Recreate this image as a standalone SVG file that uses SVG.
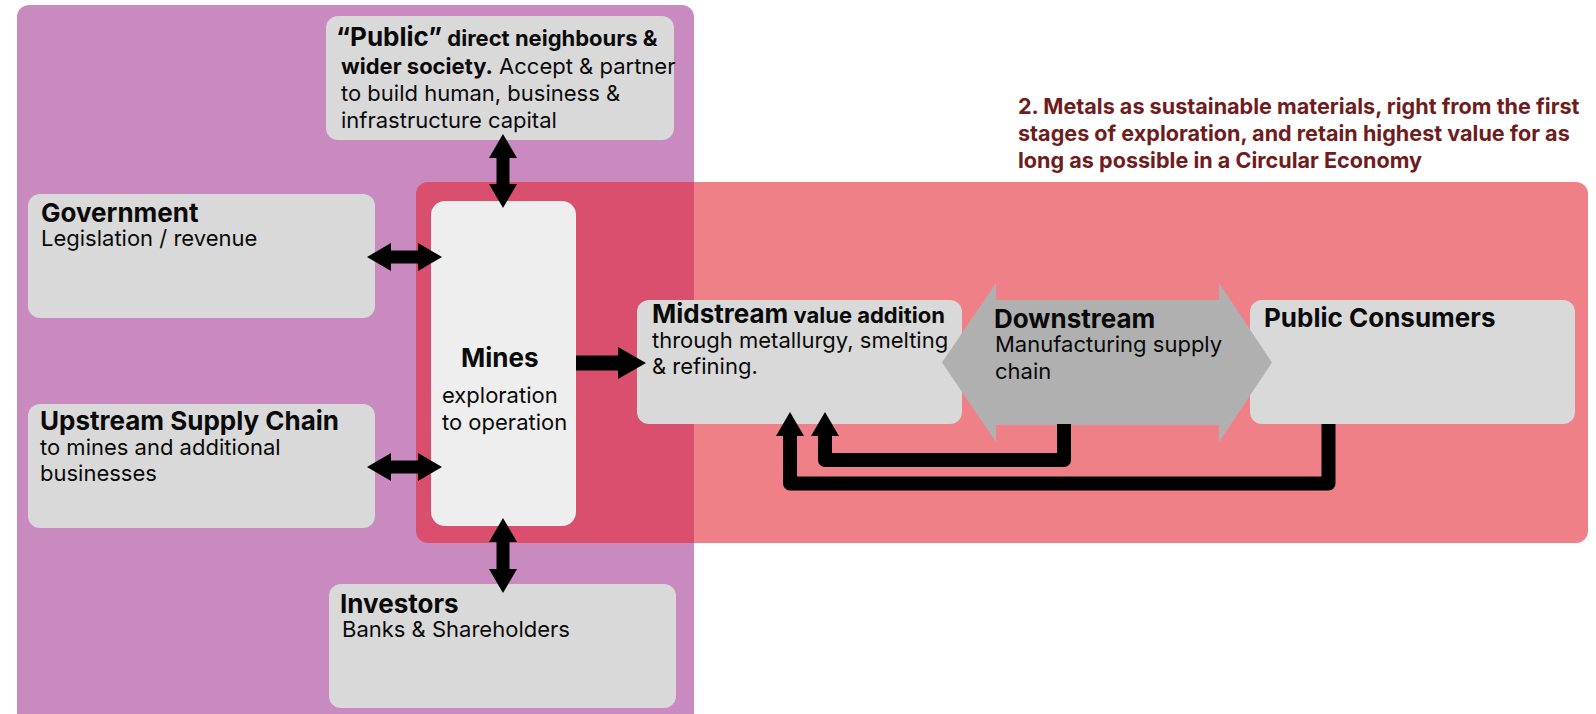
<svg xmlns="http://www.w3.org/2000/svg" width="1596" height="714" viewBox="0 0 1596 714">
  <style>
    text { font-family: Inter, "Liberation Sans", sans-serif; fill: #0A0A0A; }
    .t { font-weight: 700; font-size: 26px; }
    .b { font-size: 22px; }
    .sb { font-weight: 700; font-size: 22px; }
    .box { fill: #D9D9D9; }
    .conn { stroke: #000; fill: none; }
    .title { font-weight: 700; font-size: 21.6px; fill: #701C1C; }
  </style>
  <defs>
    <marker id="head" viewBox="0 0 24 28" refX="0" refY="14" markerWidth="24" markerHeight="28" markerUnits="userSpaceOnUse" orient="auto-start-reverse">
      <path d="M0,0 L24,14 L0,28 Z" fill="#000"/>
    </marker>
    <marker id="headL" viewBox="0 0 28 32" refX="0" refY="16" markerWidth="28" markerHeight="32" markerUnits="userSpaceOnUse" orient="auto">
      <path d="M0,0 L28,16 L0,32 Z" fill="#000"/>
    </marker>
  </defs>

  <!-- background zones -->
  <rect id="zone-stakeholders" x="17" y="5" width="677" height="720" rx="12" fill="#C98BBF"/>
  <rect id="zone-circular" x="416" y="182" width="1172" height="361" rx="12" fill="#E52432" fill-opacity="0.58"/>

  <!-- caption -->
  <g id="caption">
    <text class="title" x="1018" y="114">2. Metals as sustainable materials, right from the first</text>
    <text class="title" x="1018" y="141">stages of exploration, and retain highest value for as</text>
    <text class="title" x="1018" y="168">long as possible in a Circular Economy</text>
  </g>

  <g id="public">
    <rect class="box" x="326" y="16" width="348" height="124" rx="12"/>
    <text x="336" y="46"><tspan class="t">“Public”</tspan><tspan class="sb"> direct neighbours &amp;</tspan></text>
    <text class="b" x="341" y="74"><tspan font-weight="700">wider society.</tspan> Accept &amp; partner</text>
    <text class="b" x="341" y="101">to build human, business &amp;</text>
    <text class="b" x="341" y="128">infrastructure capital</text>
  </g>

  <g id="government">
    <rect class="box" x="28" y="194" width="347" height="124" rx="12"/>
    <text class="t" x="41" y="222">Government</text>
    <text class="b" x="41" y="246">Legislation / revenue</text>
  </g>

  <g id="upstream">
    <rect class="box" x="28" y="404" width="347" height="124" rx="12"/>
    <text class="t" x="40" y="430">Upstream Supply Chain</text>
    <text class="b" x="40" y="455">to mines and additional</text>
    <text class="b" x="40" y="481">businesses</text>
  </g>

  <g id="mines">
    <rect x="431" y="201" width="145" height="325" rx="14" fill="#EEEEEE"/>
    <text class="t" x="461" y="367">Mines</text>
    <text class="b" x="442" y="403">exploration</text>
    <text class="b" x="442" y="430">to operation</text>
  </g>

  <g id="investors">
    <rect class="box" x="329" y="584" width="347" height="124" rx="12"/>
    <text class="t" x="340" y="613">Investors</text>
    <text class="b" x="342" y="637">Banks &amp; Shareholders</text>
  </g>

  <g id="midstream">
    <rect class="box" x="637" y="300" width="325" height="124" rx="12"/>
    <text x="652" y="323"><tspan class="t">Midstream</tspan><tspan class="sb"> value addition</tspan></text>
    <text class="b" x="652" y="348">through metallurgy, smelting</text>
    <text class="b" x="652" y="374">&amp; refining.</text>
  </g>

  <g id="consumers">
    <rect class="box" x="1250" y="300" width="325" height="124" rx="12"/>
    <text class="t" x="1264" y="327">Public Consumers</text>
  </g>

  <g id="downstream">
    <polygon points="942,362.5 996,283 996,300 1219,300 1219,283 1272,362.5 1219,442 1219,425 996,425 996,442" fill="#B0B0B0"/>
    <text class="t" x="994" y="328">Downstream</text>
    <text class="b" x="995" y="352">Manufacturing supply</text>
    <text class="b" x="995" y="379">chain</text>
  </g>

  <g id="connectors">
    <line class="conn" x1="391" y1="257" x2="418" y2="257" stroke-width="13" marker-start="url(#head)" marker-end="url(#head)"/>
    <line class="conn" x1="391" y1="467" x2="418" y2="467" stroke-width="13" marker-start="url(#head)" marker-end="url(#head)"/>
    <line class="conn" x1="503" y1="158" x2="503" y2="184" stroke-width="13" marker-start="url(#head)" marker-end="url(#head)"/>
    <line class="conn" x1="503" y1="542" x2="503" y2="569" stroke-width="13" marker-start="url(#head)" marker-end="url(#head)"/>
    <line class="conn" x1="576" y1="363" x2="618" y2="363" stroke-width="15" marker-end="url(#headL)"/>
    <path class="conn" d="M1064,424 V460 H825 V436" stroke-width="14" stroke-linejoin="round" marker-end="url(#head)"/>
    <path class="conn" d="M1328.5,424 V483.5 H790 V436" stroke-width="14" stroke-linejoin="round" marker-end="url(#head)"/>
  </g>
</svg>
